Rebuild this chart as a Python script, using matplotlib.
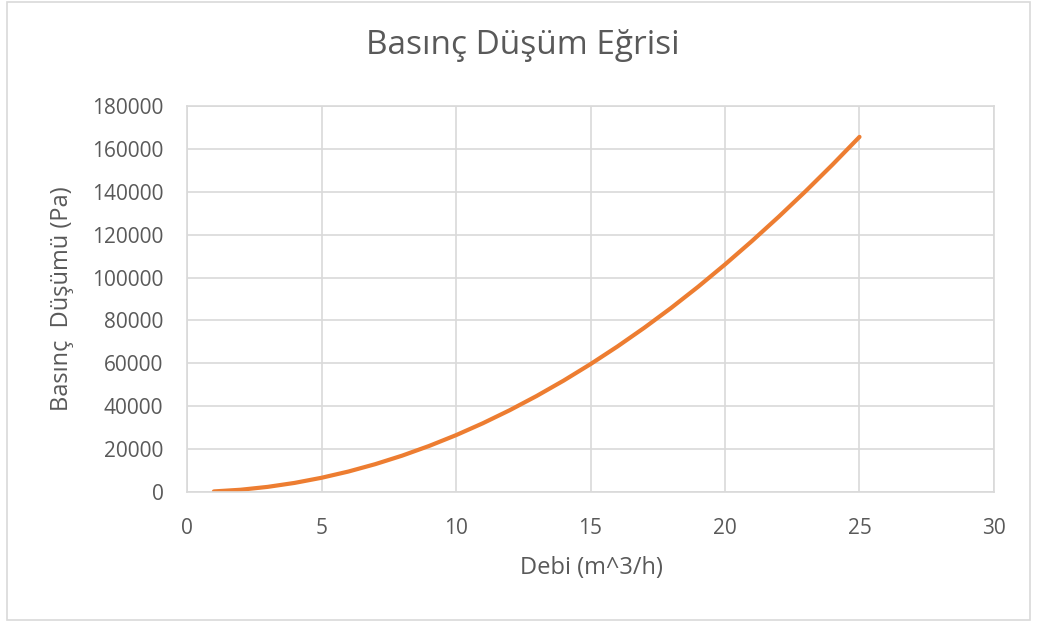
import matplotlib
matplotlib.use("Agg")
import matplotlib.pyplot as plt
from matplotlib.patches import Rectangle

# debi (m^3/h) vs basinc dusumu (Pa)
debi = [1, 2, 3, 4, 5, 6, 7, 8, 9, 10, 11, 12, 13,
        14, 15, 16, 17, 18, 19, 20, 21, 22, 23, 24, 25]
basinc_dusumu = [270, 1060, 2390, 4240, 6630, 9540, 12990, 16960, 21470, 26500,
                 32070, 38160, 44790, 51940, 59630, 67840, 76590, 85860, 95700,
                 106100, 117000, 128400, 140300, 152700, 165600]

x_ticks = [0, 5, 10, 15, 20, 25, 30]
y_ticks = [0, 20000, 40000, 60000, 80000, 100000, 120000, 140000, 160000, 180000]

TEXT = "#595959"
GRID = "#d9d9d9"
ORANGE = "#ed7d31"

plt.rcParams['font.family'] = ['Open Sans', 'DejaVu Sans']

W, H = 1037, 625
fig = plt.figure(figsize=(W / 100, H / 100), dpi=100)
fig.patch.set_facecolor("white")

# outer chart border
fig.patches.append(Rectangle((7 / W, 1 - 620 / H), (1030 - 7) / W, (620 - 2) / H,
                             transform=fig.transFigure, fill=False,
                             edgecolor="#d9d9d9", linewidth=1.2))

ax = fig.add_axes([187 / W, 1 - 492 / H, (994 - 187) / W, (492 - 106) / H])
ax.plot(debi, basinc_dusumu, color=ORANGE, linewidth=3, solid_capstyle="round",
        solid_joinstyle="round")

ax.set_xlim(0, 30)
ax.set_ylim(0, 180000)
ax.set_xticks(x_ticks)
ax.set_yticks(y_ticks)
ax.set_xticklabels([str(v) for v in x_ticks])
ax.set_yticklabels([str(v) for v in y_ticks])
ax.tick_params(axis="both", length=0, labelsize=15, colors=TEXT)
ax.tick_params(axis="x", pad=19)
ax.tick_params(axis="y", pad=17)

ax.grid(True, color=GRID, linewidth=1.2)
ax.set_axisbelow(True)
for side in ["left", "right", "top", "bottom"]:
    ax.spines[side].set_color(GRID)
    ax.spines[side].set_linewidth(1.2)

fig.text(523 / W, 1 - 46 / H, "Basınç Düşüm Eğrisi", fontsize=24, color=TEXT,
         ha="center", va="center")
fig.text(591 / W, 1 - 568 / H, "Debi (m^3/h)", fontsize=17, color=TEXT,
         ha="center", va="center")
fig.text(62 / W, 1 - 299 / H, "Basınç  Düşümü (Pa)", fontsize=17, color=TEXT,
         ha="center", va="center", rotation=90)

fig.savefig("out.png", dpi=100)
